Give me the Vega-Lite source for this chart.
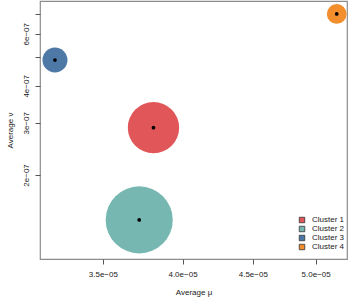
{
  "$schema": "https://vega.github.io/schema/vega-lite/v6.json",
  "autosize": "none",
  "width": 307,
  "height": 258,
  "padding": {"left": 40, "top": 1, "right": 3, "bottom": 41},
  "background": "white",
  "config": {
    "font": "Liberation Sans",
    "view": {"stroke": "#8c8c8c", "strokeWidth": 1.2},
    "axis": {"grid": false, "domain": false, "tickColor": "#555", "tickSize": 5, "labelFontSize": 8, "labelColor": "#222", "titleFontSize": 8, "titleFontWeight": "normal", "titleColor": "#222"}
  },
  "data": {"values": [
    {"cluster": "Cluster 1", "mu": 3.81e-05, "nu": 2.89e-07, "weight": 42.5},
    {"cluster": "Cluster 2", "mu": 3.72e-05, "nu": 1.41e-07, "weight": 72.6},
    {"cluster": "Cluster 3", "mu": 3.23e-05, "nu": 4.89e-07, "weight": 10.1},
    {"cluster": "Cluster 4", "mu": 5.18e-05, "nu": 7.0e-07, "weight": 6.3}
  ]},
  "encoding": {
    "x": {"field": "mu", "type": "quantitative",
      "scale": {"type": "log", "domain": [3.15e-05, 5.27e-05], "nice": false},
      "axis": {"title": "Average  μ", "values": [3.5e-05, 4.0e-05, 4.5e-05, 5.0e-05], "labelExpr": "format(datum.value*1e5,'.1f') + 'e−05'", "labelPadding": 6, "titlePadding": 10}},
    "y": {"field": "nu", "type": "quantitative",
      "scale": {"type": "log", "domain": [1.04e-07, 7.74e-07], "nice": false},
      "axis": {"title": "Average  ν", "values": [2e-07, 3e-07, 4e-07, 5e-07, 6e-07, 7e-07], "labelExpr": "indexof([2,3,4,6], round(datum.value*1e7)) >= 0 ? round(datum.value*1e7) + 'e−07' : ''", "labelAngle": 270, "labelAlign": "center", "labelBaseline": "bottom", "labelPadding": 5, "titlePadding": 8}}
  },
  "layer": [
    {
      "mark": {"type": "circle", "opacity": 1},
      "encoding": {
        "color": {"field": "cluster", "type": "nominal",
          "scale": {"domain": ["Cluster 1", "Cluster 2", "Cluster 3", "Cluster 4"], "range": ["#e15759", "#76b7b2", "#4e79a7", "#f28e2b"]},
          "legend": {"title": null, "orient": "none", "legendX": 258, "legendY": 215, "symbolType": "square", "symbolSize": 30, "symbolStrokeColor": "#333", "symbolStrokeWidth": 0.8, "symbolOpacity": 1, "labelFontSize": 8, "labelColor": "#222", "rowPadding": -1.5, "labelOffset": 6}},
        "size": {"field": "weight", "type": "quantitative", "scale": {"domain": [0, 100], "range": [0, 6200]}, "legend": null}
      }
    },
    {
      "mark": {"type": "circle", "color": "black", "opacity": 1, "size": 14},
      "encoding": {}
    }
  ]
}
